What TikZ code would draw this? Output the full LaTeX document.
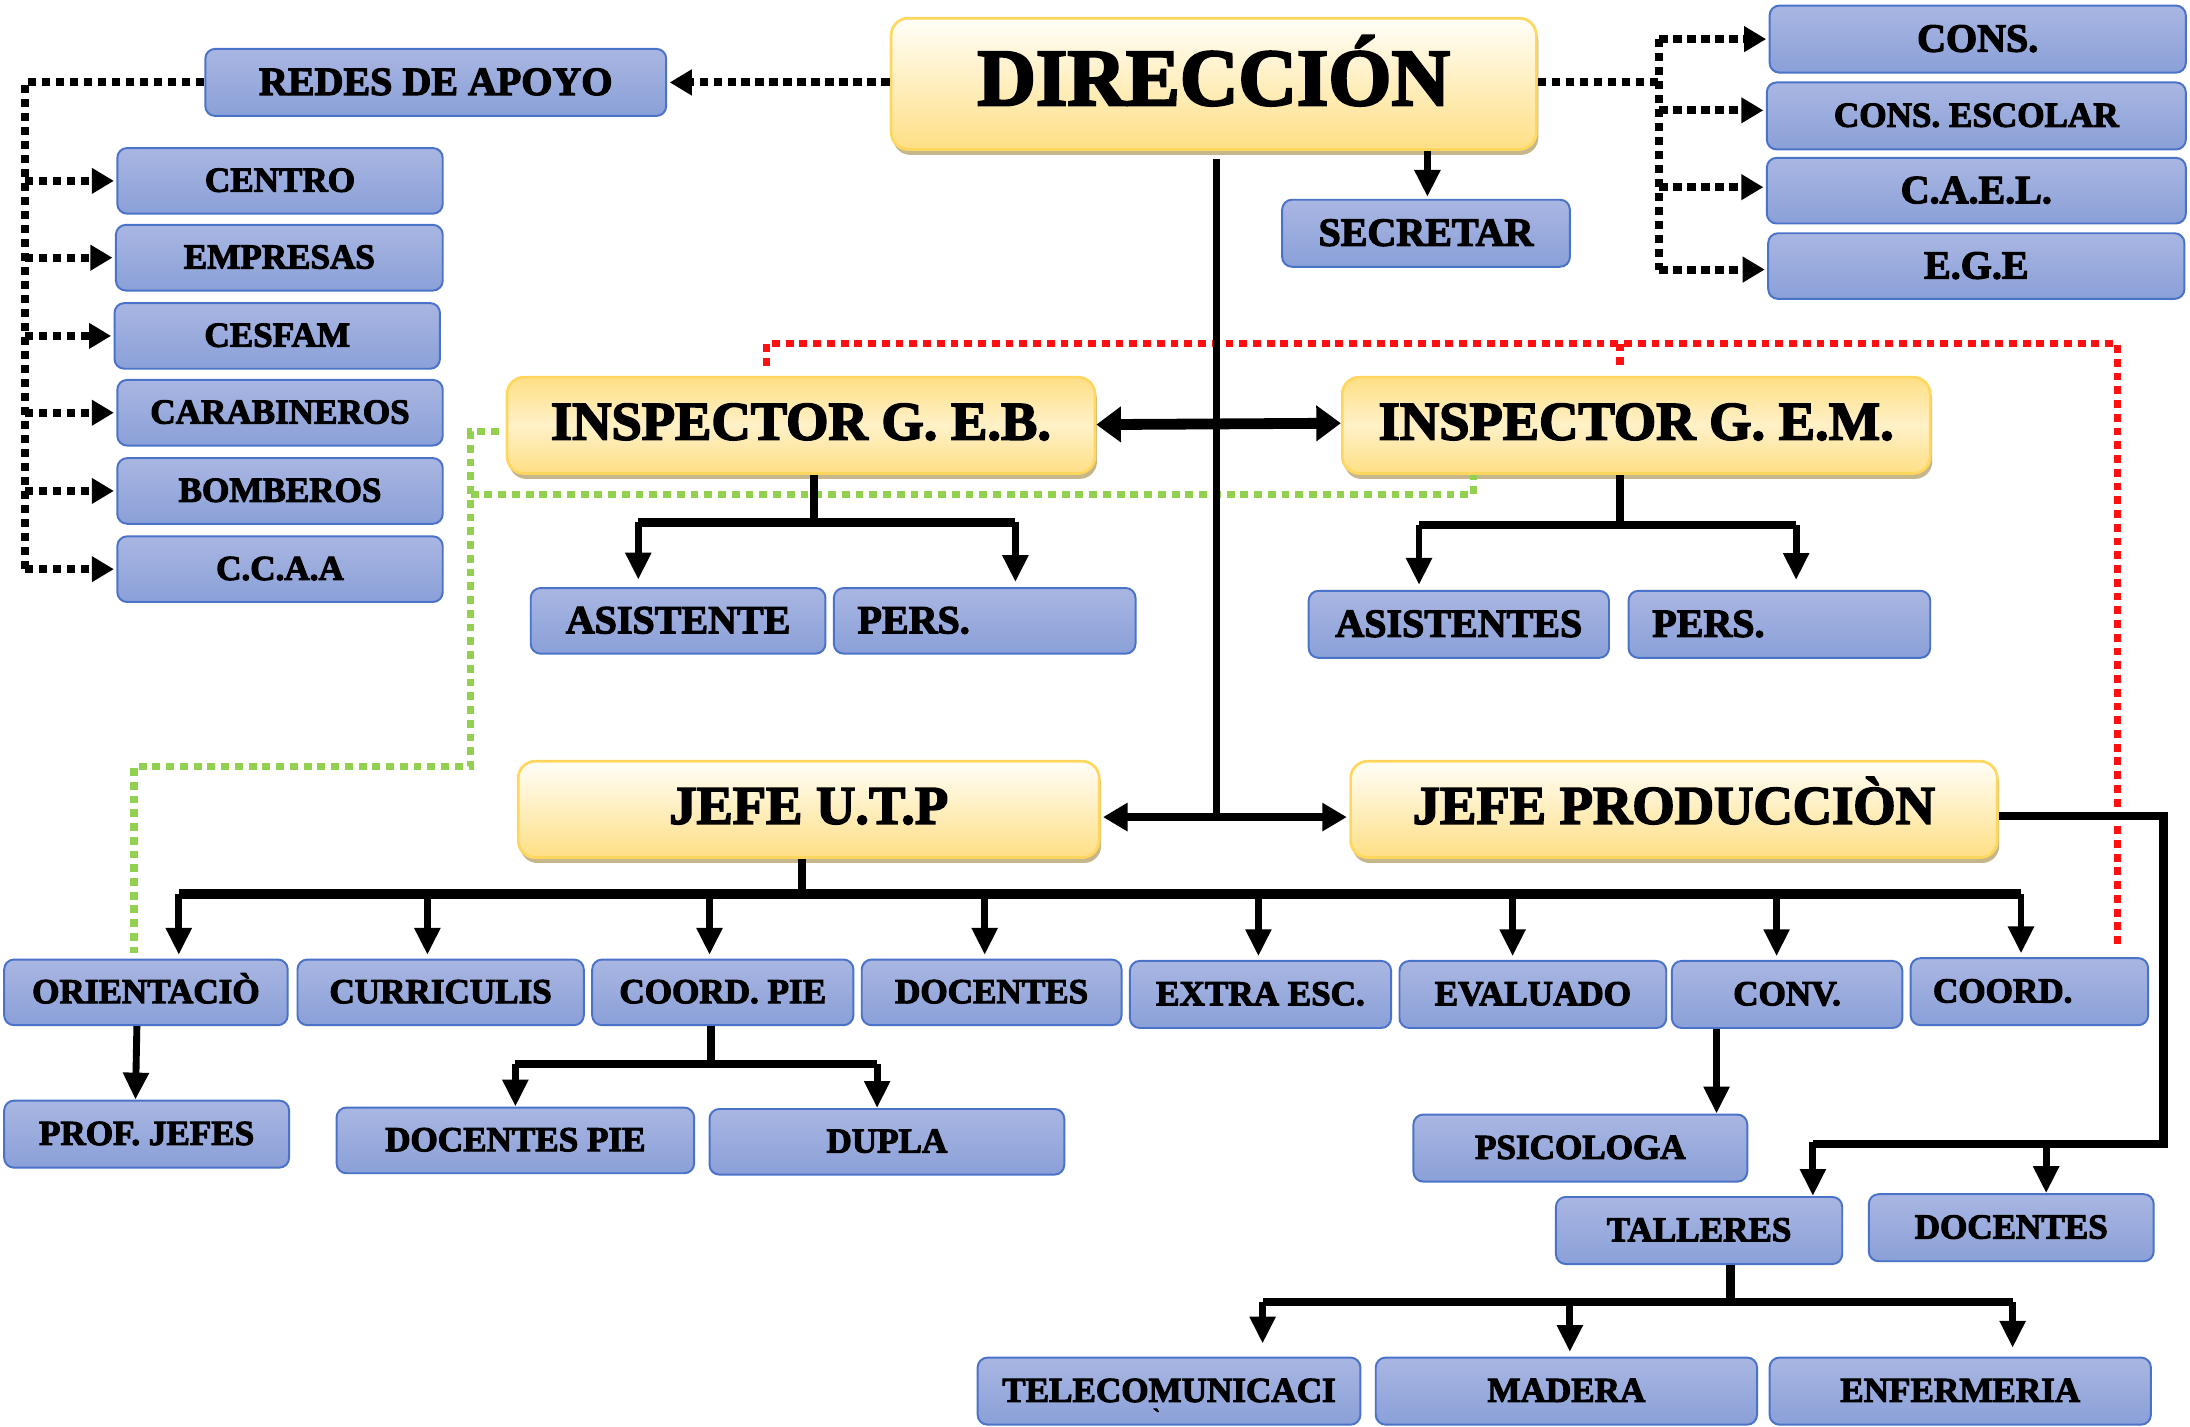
\documentclass[tikz,border=0pt]{standalone}
\usepackage{fontspec}
\setmainfont{Liberation Serif}
\newfontfamily\heavy{Liberation Serif Bold}[FakeBold=3]
\usetikzlibrary{arrows.meta,shadows}
\definecolor{btop}{HTML}{A9B6E2}
\definecolor{bbot}{HTML}{8AA0D8}
\definecolor{bbrd}{HTML}{4A72C8}
\definecolor{ytop}{HTML}{FFFEF8}
\definecolor{ybot}{HTML}{FFDF85}
\definecolor{ymid}{HTML}{FFF1C8}
\definecolor{ybrd}{HTML}{FFD75E}
\definecolor{ysh}{HTML}{C6B68C}
\definecolor{gdot}{HTML}{92D050}
\definecolor{rdot}{HTML}{FF1010}
\newcommand\bx[8][]{\node[#2,minimum width={(#6-#4)*0.2mm},minimum height={(#7-#5)*0.2mm},#1] (#3) at ({(#4+#6)/2},{(#5+#7)/2}) {#8};}
\tikzset{
  bluebox/.style={draw=bbrd,line width=0.8pt,rounded corners=4pt,top color=btop,bottom color=bbot,inner sep=0pt,text=black,
     font=\heavy\fontsize{14.3}{15}\selectfont,text height=9.4pt,text depth=0.6pt},
  bigtxt/.style={font=\heavy\fontsize{16.3}{17}\selectfont,text height=10.8pt,text depth=0.6pt},
  yelbox/.style={draw=ybrd,line width=1.1pt,rounded corners=7pt,top color=ytop,bottom color=ybot,inner sep=0pt,text=black,
     drop shadow={shadow xshift=0.8pt,shadow yshift=-2.2pt,fill=ysh,opacity=1},font=\heavy\fontsize{22.2}{23}\selectfont,
     text height=14.7pt,text depth=3pt},
  inspbox/.style={yelbox,top color=ybot,bottom color=ybot,middle color=ymid},
  arr/.style={line width=2.8pt,-{Triangle[length=11pt,width=10pt]}},
  bus/.style={line width=3.4pt},
  blk/.style={line width=3.2pt,dash pattern=on 3.4pt off 2.3pt},
  blkarr/.style={blk,-{Triangle[length=9pt,width=10pt]},shorten >=1pt},
  red/.style={line width=3pt,draw=rdot,dash pattern=on 3.2pt off 2.4pt},
  grn/.style={line width=3pt,draw=gdot,dash pattern=on 3.2pt off 2.4pt},
}
\begin{document}
\begin{tikzpicture}[x=0.2mm,y=-0.2mm]
\useasboundingbox (0,0) rectangle (1568,1021);
% yellow boxes
\bx[font=\heavy\fontsize{33}{34}\selectfont,text height=21.8pt,text depth=4.5pt]{yelbox}{dir}{638}{13}{1100}{107}{DIRECCIÓN}
\bx{inspbox}{ieb}{363}{270}{784}{339}{INSPECTOR G. E.B.}
\bx{inspbox}{iem}{961}{270}{1382}{339}{INSPECTOR G. E.M.}
\bx{yelbox}{utp}{371}{545}{787}{614}{JEFE U.T.P}
\bx{yelbox}{prod}{967}{545}{1430}{614}{JEFE PRODUCCIÒN}
% blue boxes
\bx[bigtxt]{bluebox}{redes}{147}{35}{477}{83}{REDES DE APOYO}
\bx{bluebox}{centro}{84}{106}{317}{153}{CENTRO}
\bx{bluebox}{empresas}{83}{161}{317}{208}{EMPRESAS}
\bx{bluebox}{cesfam}{82}{217}{315}{264}{CESFAM}
\bx{bluebox}{carab}{84}{272}{317}{319}{CARABINEROS}
\bx{bluebox}{bomb}{84}{328}{317}{375}{BOMBEROS}
\bx{bluebox}{ccaa}{84}{384}{317}{431}{C.C.A.A}
\bx[bigtxt]{bluebox}{secr}{918}{143}{1124}{191}{SECRETAR}
\bx[bigtxt]{bluebox}{cons}{1267}{4}{1565}{52}{CONS.}
\bx{bluebox}{consesc}{1265}{59}{1565}{107}{CONS. ESCOLAR}
\bx[bigtxt]{bluebox}{cael}{1265}{113}{1565}{160}{C.A.E.L.}
\bx[bigtxt]{bluebox}{ege}{1266}{167}{1564}{214}{E.G.E}
\bx[bigtxt]{bluebox}{asis}{380}{421}{591}{468}{ASISTENTE}
\bx[bigtxt,text width=36.4mm,align=left]{bluebox}{pers}{597}{421}{813}{468}{PERS.}
\bx[bigtxt]{bluebox}{asiss}{937}{423}{1152}{471}{ASISTENTES}
\bx[bigtxt,text width=36.4mm,align=left]{bluebox}{persb}{1166}{423}{1382}{471}{PERS.}
\bx{bluebox}{orient}{3}{687}{206}{734}{ORIENTACIÒ}
\bx{bluebox}{curr}{213}{687}{418}{734}{CURRICULIS}
\bx{bluebox}{cpie}{424}{687}{611}{734}{COORD. PIE}
\bx{bluebox}{doc}{617}{687}{803}{734}{DOCENTES}
\bx{bluebox}{extra}{809}{688}{996}{736}{EXTRA ESC.}
\bx{bluebox}{eval}{1002}{688}{1193}{736}{EVALUADO}
\bx{bluebox}{conv}{1197}{688}{1362}{736}{CONV.}
\bx[text width=27.6mm,align=left]{bluebox}{coord}{1368}{686}{1538}{734}{COORD.}
\bx{bluebox}{prof}{3}{788}{207}{836}{PROF. JEFES}
\bx{bluebox}{docpie}{241}{793}{497}{840}{DOCENTES PIE}
\bx{bluebox}{dupla}{508}{794}{762}{841}{DUPLA}
\bx{bluebox}{psico}{1012}{798}{1251}{846}{PSICOLOGA}
\bx{bluebox}{tall}{1114}{857}{1319}{905}{TALLERES}
\bx{bluebox}{docb}{1338}{855}{1542}{903}{DOCENTES}
\bx{bluebox}{tele}{700}{972}{974}{1020}{TELECOMUNICACI}
\bx{bluebox}{mad}{985}{972}{1258}{1020}{MADERA}
\bx{bluebox}{enf}{1267}{972}{1540}{1020}{ENFERMERIA}
\node[inner sep=0pt,font=\heavy\fontsize{9}{9}\selectfont] (grave) at (828,1014) {\textasciigrave};
% red dotted
\coordinate (r0) at (549,262);
\coordinate (r1) at (1516,680);
\draw[red] (r0) -- (549,246) -- (1516,246) -- (r1);
\coordinate (r2) at (1160,264);
\draw[red] (1160,246) -- (r2);
% green dotted
\coordinate (g0) at (357,309);
\coordinate (g1) at (96,682);
\draw[grn] (g0) -- (337,309) -- (337,549) -- (96,549) -- (g1);
\draw[grn] (337,354) -- (1055,354) -- (1055,0 |- iem.south);
% direction left: redes
\draw[blkarr] (dir.west |- redes.east) -- (redes.east);
\coordinate (lv) at (18,59);
\draw[blk] (redes.west) -- (lv) -- (lv |- ccaa.west);
\foreach \n in {centro,empresas,cesfam,carab,bomb,ccaa}
  \draw[blkarr] (lv |- \n.west) -- (\n.west);
% direction right
\coordinate (rv) at (1188,59);
\draw[blk] (dir.east |- rv) -- (rv);
\draw[blk] (1188,28) -- (1188,193);
\draw[blkarr] (1188,28) -- (cons.west |- 0,28);
\draw[blkarr] (1188,79) -- (consesc.west |- 0,79);
\draw[blkarr] (1188,134) -- (cael.west |- 0,134);
\draw[blkarr] (1188,193) -- (ege.west |- 0,193);
% secretar
\draw[arr] (1022,0 |- dir.south) -- (1022,141);
% main vertical
\coordinate (mv) at (871,114);
\draw[line width=2.6pt] (mv) -- (871,585);
\draw[line width=3.4pt,{Triangle[length=10pt,width=11pt]}-{Triangle[length=10pt,width=11pt]},shorten <=1pt,shorten >=1pt] (utp.east |- 0,585) -- (prod.west |- 0,585);
\draw[line width=4.4pt,{Triangle[length=10pt,width=14pt]}-{Triangle[length=10pt,width=14pt]}] (ieb.east |- 0,304) -- (iem.west |- 0,303);
% inspector EB
\draw[bus] (583,0 |- ieb.south) -- (583,374);
\draw[bus] (457,374) -- (727,374);
\draw[arr,shorten >=3pt] (457,374) -- (457,0 |- asis.north);
\draw[arr,shorten >=2pt] (727,374) -- (727,0 |- pers.north);
% inspector EM
\draw[bus] (1160,0 |- iem.south) -- (1160,376);
\draw[bus] (1016,376) -- (1286,376);
\draw[arr,shorten >=2pt] (1016,376) -- (1016,0 |- asiss.north);
\draw[arr,shorten >=4pt] (1286,376) -- (1286,0 |- persb.north);
% jefe UTP
\draw[bus] (574,0 |- utp.south) -- (574,640);
\draw[line width=3.9pt] (128,640) -- (1447,640);
\foreach \x/\n in {128/orient,306/curr,508/cpie,705/doc,901/extra,1083/eval,1272/conv,1447/coord}
  \draw[arr,shorten >=1.5pt] (\x,640) -- (\x,0 |- \n.north);
% orient -> prof
\draw[arr] (98,0 |- orient.south) -- (97,0 |- prof.north);
% coord pie
\draw[bus] (509,0 |- cpie.south) -- (509,762);
\draw[bus] (369,762) -- (628,762);
\draw[arr] (369,762) -- (369,0 |- docpie.north);
\draw[arr] (628,762) -- (628,0 |- dupla.north);
% conv -> psicologa
\draw[arr] (1229,0 |- conv.south) -- (1229,0 |- psico.north);
% jefe produccion
\draw[bus] (prod.east |- 0,584) -- (1549,584) -- (1549,819) -- (1298,819);
\draw[arr] (1298,817.5) -- (1298,0 |- tall.north);
\draw[arr] (1465,819) -- (1465,0 |- docb.north);
% talleres
\draw[bus] (1239,0 |- tall.south) -- (1239,932);
\draw[bus] (904,932) -- (1441,932);
\draw[arr] (904,932) -- (904,962);
\draw[arr] (1124,932) -- (1124,968);
\draw[arr] (1441,932) -- (1441,965);
\end{tikzpicture}
\end{document}
